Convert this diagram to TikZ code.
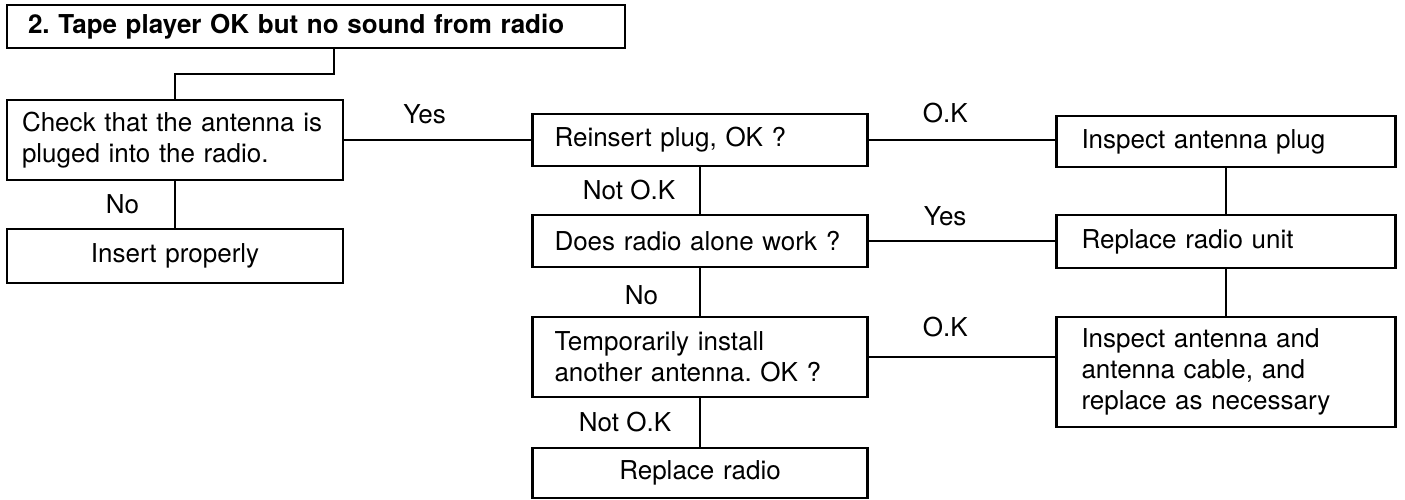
\documentclass[tikz,border=0pt]{standalone}
\usepackage{fontspec}
\setmainfont{TeX Gyre Heros}
\usetikzlibrary{positioning}
\frenchspacing

\begin{document}
\begin{tikzpicture}[x=1pt, y=-1pt, every node/.style={font=\fontsize{26}{31}\selectfont}, box/.style={draw, line width=2.2pt, inner xsep=22pt, inner ysep=0pt, text width=291pt, align=left, minimum height=52pt}, cbox/.style={box, align=center}, wide/.style={box, inner xsep=25pt, text width=289pt}, link/.style={line width=1.8pt}, lbl/.style={inner sep=0pt, anchor=base}, side/.style={inner sep=0pt}]
\useasboundingbox (0,0) rectangle (1405,500);
% title and the first check on the left
\node[box, inner xsep=21pt, text width=576pt, minimum height=43pt, font=\fontsize{26}{31}\selectfont\bfseries] (title) at (316,26.5) {2. Tape player OK but no sound from radio};
\node[box, inner xsep=15pt, text width=306pt, minimum height=80pt] (check) at (175,140) {Check that the antenna is\\pluged into the radio.};
\node[cbox, inner xsep=15pt, text width=306pt, minimum height=54pt] (insert) at (175,256) {Insert properly};
% middle column
\node[box] (reinsert) at (700,140) {Reinsert plug, OK ?};
\node[box] (alone) at (700,241) {Does radio alone work ?};
\node[box, minimum height=80pt] (temp) at (700,357) {Temporarily install\\another antenna. OK ?};
\node[cbox, minimum height=50pt] (radio) at (700,473) {Replace radio};
% right column
\node[wide, minimum height=51pt] (plug) at (1226,141.5) {Inspect antenna plug};
\node[wide, minimum height=53pt] (unit) at (1226,241.5) {Replace radio unit};
\node[wide, minimum height=110pt] (cable) at (1226,372) {Inspect antenna and\\antenna cable, and\\replace as necessary};
% connectors
\draw[link] ([xshift=18pt]title.south) -- ++(0,25) -| (check.north);
\draw[link] (check.south) -- node[side, left=35pt] {No} (insert.north);
\draw[link] (check.east) -- node[lbl, pos=0.43, yshift=16pt] {Yes} (reinsert.west);
\draw[link] (reinsert.south) -- node[side, left=24pt] {Not O.K} (alone.north);
\draw[link] (alone.south) -- node[side, left=41pt, yshift=-3pt] {No} (temp.north);
\draw[link] (temp.south) -- node[side, left=28pt] {Not O.K} (radio.north);
\draw[link] (reinsert.east) -- node[lbl, pos=0.41, yshift=17pt] {O.K} (reinsert.east -| plug.west);
\draw[link] (alone.east) -- node[lbl, pos=0.41, yshift=16pt] {Yes} (alone.east -| unit.west);
\draw[link] (temp.east) -- node[lbl, pos=0.41, yshift=21pt] {O.K} (temp.east -| cable.west);
\draw[link] (plug.south) -- (unit.north);
\draw[link] (unit.south) -- (cable.north);
\end{tikzpicture}
\end{document}
